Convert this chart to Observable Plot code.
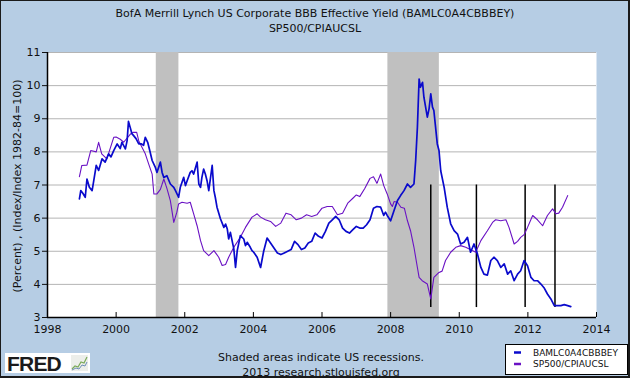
<!DOCTYPE html>
<html>
<head>
<meta charset="utf-8">
<script src="https://cdn.jsdelivr.net/npm/d3@7"></script>
<script src="https://cdn.jsdelivr.net/npm/@observablehq/plot@0.6"></script>
<style>
  html, body { margin: 0; padding: 0; background: #fff; }
  #wrap { position: relative; width: 630px; height: 378px; background: #B6CDE4; overflow: hidden; font-family: "DejaVu Sans", Verdana, sans-serif; }
  #wrap > svg { position: absolute; left: 0; top: 0; }
  #border { position: absolute; left: 0; top: 0; width: 630px; height: 378px; box-sizing: border-box;
            border-top: 1px solid #1a1a1a; border-left: 1px solid #1a1a1a; border-right: 2px solid #1a1a1a; border-bottom: 2px solid #1a1a1a; }
</style>
</head>
<body>
<div id="wrap"></div>
<script>
// ---- Data ----
const titleLines = ["BofA Merrill Lynch US Corporate BBB Effective Yield (BAMLC0A4CBBBEY)", "SP500/CPIAUCSL"];
const yAxisTitle = "(Percent) , (Index/Index 1982-84=100)";
const footerLines = ["Shaded areas indicate US recessions.", "2013 research.stlouisfed.org"];
const seriesNames = ["BAMLC0A4CBBBEY", "SP500/CPIAUCSL"];
const seriesColors = ["#0A0ACC", "#6A12C4"];

const xTicks = [1998, 2000, 2002, 2004, 2006, 2008, 2010, 2012, 2014];
const yTicks = [3, 4, 5, 6, 7, 8, 9, 10, 11];

const recessionStart = [2001.17, 2007.92];
const recessionEnd = [2001.83, 2009.42];

const markerYears = [2009.17, 2010.5, 2011.92, 2012.79];
const markerLow = 3.3;
const markerHigh = 7.0;

// BAMLC0A4CBBBEY (percent)
const bbbYear = [
  1998.93, 1998.97, 1999.03, 1999.10, 1999.15, 1999.22, 1999.30, 1999.34, 1999.42, 1999.49,
  1999.59, 1999.68, 1999.78, 1999.85, 1999.93, 2000.03, 2000.12, 2000.17, 2000.27, 2000.32,
  2000.36, 2000.41, 2000.46, 2000.51, 2000.58, 2000.66, 2000.74, 2000.80, 2000.85, 2000.92,
  2000.98, 2001.05, 2001.14, 2001.19, 2001.29, 2001.34, 2001.39, 2001.48, 2001.58, 2001.68,
  2001.73, 2001.82, 2001.87, 2001.97, 2002.02, 2002.07, 2002.16, 2002.21, 2002.26, 2002.36,
  2002.41, 2002.46, 2002.50, 2002.55, 2002.60, 2002.65, 2002.70, 2002.80, 2002.85, 2002.89,
  2002.94, 2003.04, 2003.14, 2003.19, 2003.24, 2003.28, 2003.33, 2003.43, 2003.48, 2003.53,
  2003.62, 2003.72, 2003.77, 2003.82, 2003.91, 2003.96, 2004.01, 2004.11, 2004.21,
  2004.30, 2004.40, 2004.50, 2004.60, 2004.70, 2004.80, 2004.90, 2005.00, 2005.10, 2005.20,
  2005.30, 2005.40, 2005.50, 2005.60, 2005.70, 2005.80, 2005.90, 2006.00, 2006.10, 2006.20,
  2006.30, 2006.40, 2006.50, 2006.60, 2006.70, 2006.80, 2006.90, 2007.00, 2007.10, 2007.20,
  2007.30, 2007.40, 2007.50, 2007.60, 2007.71, 2007.80, 2007.85, 2007.90, 2008.00, 2008.10,
  2008.20, 2008.29, 2008.39, 2008.49, 2008.58, 2008.68, 2008.73, 2008.78, 2008.83, 2008.87,
  2008.93, 2008.97, 2009.07, 2009.12, 2009.17, 2009.22, 2009.26, 2009.36, 2009.41, 2009.46,
  2009.56, 2009.65, 2009.75, 2009.85, 2009.95, 2010.04, 2010.14, 2010.24, 2010.33, 2010.43,
  2010.53, 2010.63, 2010.72, 2010.82, 2010.92, 2011.01, 2011.11, 2011.21, 2011.31, 2011.41,
  2011.50, 2011.60, 2011.70, 2011.79, 2011.89, 2011.99, 2012.09, 2012.18, 2012.28, 2012.38,
  2012.47, 2012.57, 2012.67, 2012.77, 2012.86, 2012.96, 2013.06, 2013.16, 2013.25
];
const bbbValue = [
  6.58, 6.83, 6.75, 6.63, 7.18, 6.93, 6.83, 7.08, 7.59, 7.44,
  7.79, 7.69, 7.94, 7.85, 8.04, 8.24, 8.10, 8.29, 8.09, 8.34,
  8.92, 8.74, 8.55, 8.49, 8.40, 8.24, 8.24, 8.20, 8.44, 8.29,
  8.04, 7.74, 7.54, 7.38, 7.69, 7.38, 7.23, 7.28, 7.03, 6.93,
  6.83, 6.63, 6.93, 7.23, 6.98, 7.13, 7.38, 7.43, 7.33, 7.69,
  7.03, 6.93, 7.23, 7.48, 7.33, 7.13, 6.83, 7.59, 6.83, 6.63,
  6.33, 5.98, 5.72, 5.82, 5.67, 5.37, 5.57, 5.07, 4.51, 5.02,
  5.47, 5.37, 5.17, 5.27, 5.12, 5.02, 4.97, 4.82, 4.51,
  5.00, 5.40, 5.25, 5.10, 4.95, 4.90, 4.95, 5.00, 5.05, 5.30,
  5.20, 5.05, 5.10, 5.25, 5.30, 5.55, 5.45, 5.40, 5.60, 5.85,
  5.95, 6.05, 5.95, 5.70, 5.60, 5.55, 5.65, 5.75, 5.70, 5.70,
  5.80, 5.95, 6.30, 6.35, 6.33, 6.08, 6.18, 6.08, 5.92, 6.23,
  6.53, 6.68, 6.83, 7.03, 6.93, 7.03, 7.74, 8.74, 10.20, 9.95,
  10.10, 9.65, 9.05, 9.30, 9.75, 9.35, 9.25, 8.24, 8.04, 7.43,
  6.93, 6.33, 5.83, 5.62, 5.52, 5.22, 5.27, 5.42, 4.97, 5.22,
  4.92, 4.51, 4.31, 4.28, 4.72, 4.82, 4.72, 4.51, 4.62, 4.31,
  4.41, 4.11, 4.31, 4.41, 4.72, 4.56, 4.21, 4.11, 4.11, 4.01,
  3.90, 3.71, 3.56, 3.36, 3.36, 3.36, 3.39, 3.36, 3.33
];

// SP500/CPIAUCSL (index ratio)
const spxYear = [
  1998.93, 1999.00, 1999.15, 1999.26, 1999.42, 1999.49, 1999.58, 1999.73, 1999.93, 2000.00,
  2000.12, 2000.22, 2000.41, 2000.50, 2000.60, 2000.66, 2000.85, 2000.95, 2001.05, 2001.10,
  2001.19, 2001.29, 2001.39, 2001.48, 2001.58, 2001.68, 2001.77, 2001.82, 2001.92, 2002.07,
  2002.16, 2002.26, 2002.36, 2002.46, 2002.55, 2002.70, 2002.85, 2002.99, 2003.09, 2003.19,
  2003.28, 2003.43, 2003.62, 2003.77, 2003.96, 2004.11, 2004.21, 2004.35, 2004.50, 2004.65,
  2004.80, 2004.95, 2005.10, 2005.25, 2005.40, 2005.55, 2005.70, 2005.85, 2006.00, 2006.15,
  2006.30, 2006.45, 2006.60, 2006.75, 2006.90, 2007.00, 2007.10, 2007.25, 2007.40, 2007.50,
  2007.60, 2007.71, 2007.80, 2007.90, 2008.00, 2008.05, 2008.10, 2008.20, 2008.30, 2008.40,
  2008.49, 2008.58, 2008.68, 2008.78, 2008.83, 2008.92, 2009.07, 2009.17, 2009.26, 2009.41,
  2009.50, 2009.60, 2009.75, 2009.90, 2010.04, 2010.19, 2010.29, 2010.38, 2010.48, 2010.63,
  2010.82, 2010.97, 2011.06, 2011.21, 2011.36, 2011.45, 2011.60, 2011.70, 2011.79, 2011.89,
  2011.99, 2012.14, 2012.28, 2012.43, 2012.57, 2012.72, 2012.82, 2012.90, 2013.01, 2013.16
];
const spxValue = [
  7.25, 7.59, 7.60, 8.04, 8.00, 8.29, 7.94, 7.79, 8.44, 8.45,
  8.38, 8.29, 8.53, 8.59, 8.59, 8.33, 7.94, 7.63, 7.33, 6.73,
  6.73, 6.87, 7.18, 6.90, 6.53, 5.87, 6.18, 6.43, 6.48, 6.45,
  6.48, 6.13, 5.77, 5.32, 5.02, 4.87, 5.02, 4.82, 4.57, 4.60,
  4.82, 5.12, 5.42, 5.72, 6.03, 6.13, 6.03, 5.95, 5.90, 5.75,
  5.85, 6.15, 6.10, 5.95, 6.00, 6.10, 6.05, 6.10, 6.30, 6.35,
  6.35, 6.10, 6.15, 6.45, 6.60, 6.70, 6.65, 6.90, 7.20, 7.25,
  7.05, 7.33, 6.98, 6.73, 6.43, 6.35, 6.50, 6.48, 6.33, 6.30,
  5.92, 5.62, 5.12, 4.51, 4.21, 4.11, 4.01, 3.56, 4.21, 4.36,
  4.40, 4.72, 4.97, 5.12, 5.17, 5.12, 5.07, 5.02, 4.97, 5.32,
  5.62, 5.87, 5.95, 5.92, 5.95, 5.72, 5.22, 5.30, 5.42, 5.50,
  5.72, 6.08, 5.95, 5.77, 6.08, 6.28, 6.13, 6.15, 6.33, 6.68
];

// ---- Build tables for Plot ----
const bbb = bbbYear.map((t, i) => ({t, v: bbbValue[i]}));
const spx = spxYear.map((t, i) => ({t, v: spxValue[i]}));
const recessions = recessionStart.map((s, i) => ({s, e: recessionEnd[i]}));
const gridYs = yTicks.filter(d => d > 3);

const W = 630, H = 378;
const chart = Plot.plot({
  width: W, height: H,
  marginTop: 52, marginBottom: 61, marginLeft: 47, marginRight: 34,
  style: {background: "transparent", fontFamily: "'DejaVu Sans', Verdana, sans-serif", fontSize: "11px", color: "#111"},
  x: {domain: [1998, 2014], ticks: xTicks, tickFormat: d => String(d), tickSize: 0, tickPadding: 8, label: null},
  y: {domain: [3, 11], ticks: yTicks, tickSize: 5, tickPadding: 2, label: null},
  marks: [
    Plot.frame({fill: "white", stroke: "none"}),
    Plot.ruleY(gridYs, {stroke: "#B4B4B4", strokeWidth: 1}),
    Plot.rect(recessions, {x1: "s", x2: "e", fill: "#C0C0C0"}),
    Plot.ruleX(markerYears, {y1: markerLow, y2: markerHigh, stroke: "#000", strokeWidth: 1.5}),
    Plot.line(spx, {x: "t", y: "v", stroke: seriesColors[1], strokeWidth: 1.1}),
    Plot.line(bbb, {x: "t", y: "v", stroke: seriesColors[0], strokeWidth: 1.7}),
    Plot.ruleX(xTicks, {y1: 3, y2: 3.15, stroke: "#000"}),
    Plot.ruleX([1998], {stroke: "#000", strokeWidth: 1.5}),
    Plot.ruleY([3], {stroke: "#000", strokeWidth: 1.5})
  ]
});

const wrap = document.getElementById("wrap");
wrap.appendChild(chart);

// ---- Text overlay (titles, axis title, footer, legend, logo) ----
const ov = d3.create("svg").attr("width", W).attr("height", H)
  .style("font-family", "'DejaVu Sans', Verdana, sans-serif");

ov.selectAll("text.title").data(titleLines).join("text")
  .attr("x", 315).attr("y", (d, i) => 17 + i * 15)
  .attr("text-anchor", "middle").attr("font-size", 11).attr("fill", "#111")
  .text(d => d);

ov.append("text")
  .attr("transform", "translate(21,186) rotate(-90)")
  .attr("text-anchor", "middle").attr("font-size", 11).attr("fill", "#111")
  .text(yAxisTitle);

ov.selectAll("text.foot").data(footerLines).join("text")
  .attr("x", 321).attr("y", (d, i) => 361 + i * 14.5)
  .attr("text-anchor", "middle").attr("font-size", 11).attr("fill", "#111")
  .text(d => d);

// legend
const lg = ov.append("g");
lg.append("rect").attr("x", 505.5).attr("y", 344.5).attr("width", 122).attr("height", 30)
  .attr("fill", "white").attr("stroke", "#000");
seriesNames.forEach((name, i) => {
  const yy = 352.5 + i * 11.5;
  lg.append("line").attr("x1", 514).attr("x2", 521).attr("y1", yy).attr("y2", yy)
    .attr("stroke", seriesColors[i]).attr("stroke-width", 2.5);
  lg.append("text").attr("x", 533).attr("y", yy + 3.2).attr("font-size", 9).attr("fill", "#111").text(name);
});

// FRED logo
const logo = ov.append("g");
logo.append("rect").attr("x", 5).attr("y", 353).attr("width", 85).attr("height", 20).attr("fill", "white");
logo.append("text").attr("x", 7).attr("y", 371).attr("font-family", "'Liberation Sans', Arial, sans-serif")
  .attr("font-weight", "bold").attr("font-size", 21).attr("letter-spacing", -0.8).attr("fill", "#1b1b1b").text("FRED");
logo.append("rect").attr("x", 71).attr("y", 355).attr("width", 17).attr("height", 16).attr("fill", "#ECEEEA");
logo.append("polyline").attr("points", "72,369 75,366 78,367 81,362 84,363 87,357")
  .attr("fill", "none").attr("stroke", "#7BAA5A").attr("stroke-width", 1.2);
logo.append("polyline").attr("points", "72,370 76,368 79,369 82,365 85,366 87,362")
  .attr("fill", "none").attr("stroke", "#6D8DB5").attr("stroke-width", 1);

wrap.appendChild(ov.node());
const border = document.createElement("div");
border.id = "border";
wrap.appendChild(border);
</script>
</body>
</html>
